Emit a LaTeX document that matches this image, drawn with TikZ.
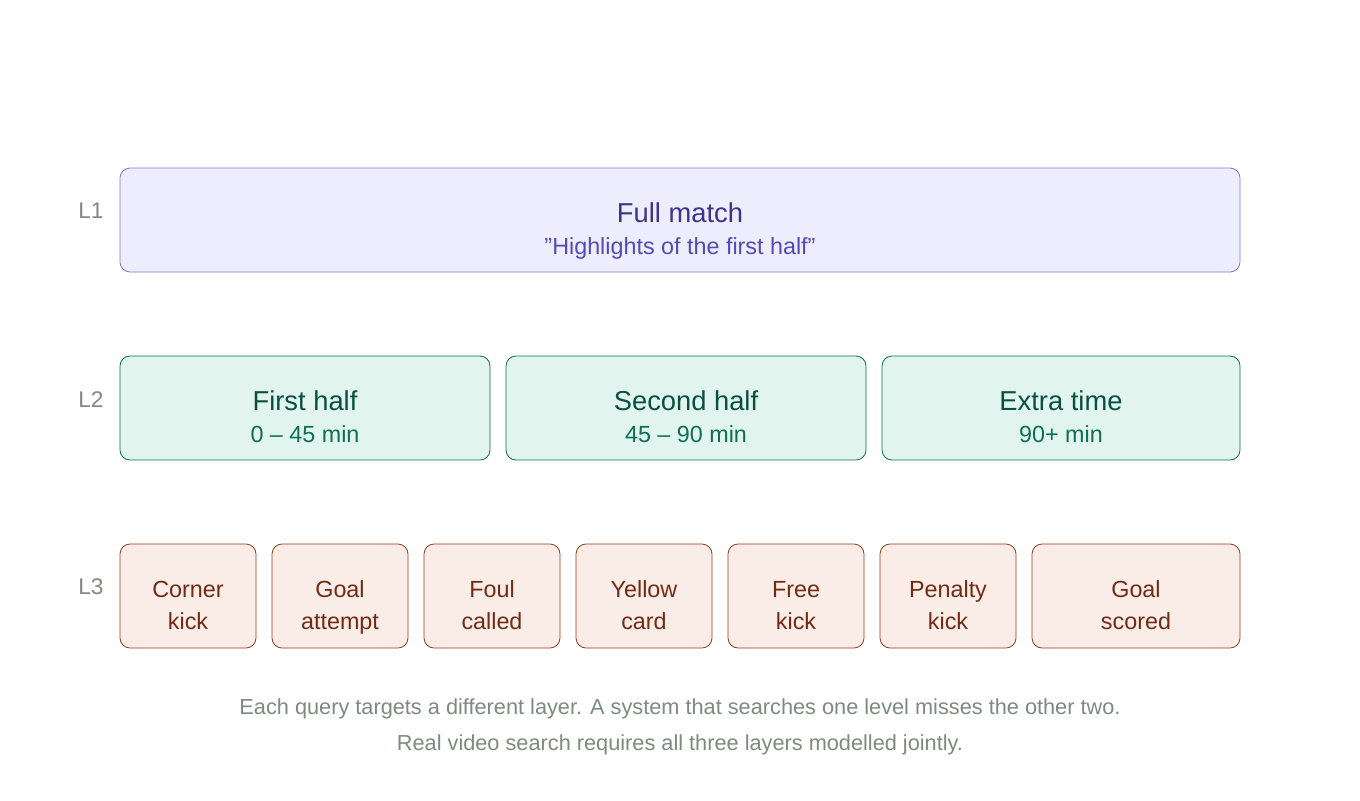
\documentclass[tikz,border=0pt]{standalone}
\usepackage{fontspec}
\setmainfont{Liberation Sans}
\usepackage{xcolor}
\definecolor{lonefill}{HTML}{EEEDFE}
\definecolor{loneline}{HTML}{7F77DD}
\definecolor{lonetext}{HTML}{3C3489}
\definecolor{lonesub}{HTML}{534AB7}
\definecolor{ltwofill}{HTML}{E1F5EE}
\definecolor{ltwoline}{HTML}{0F6E56}
\definecolor{ltwotext}{HTML}{085041}
\definecolor{lthreefill}{HTML}{FAECE7}
\definecolor{lthreeline}{HTML}{993C1D}
\definecolor{lthreetext}{HTML}{712B13}
\definecolor{graytext}{HTML}{7D8A80}
\tikzset{
  box/.style={draw, rounded corners=10*0.75pt, line width=0.6pt, inner sep=0pt, minimum height=104*0.75pt},
  lvl/.style={anchor=base, text=graytext, font=\fontsize{17}{18}\selectfont},
  title/.style={anchor=base, font=\fontsize{20.5}{24}\selectfont},
  sub/.style={anchor=base, font=\fontsize{17.5}{20}\selectfont},
  ev/.style={anchor=base, text=lthreetext, font=\fontsize{17.5}{24}\selectfont},
  caption/.style={anchor=base, text=graytext, font=\fontsize{16.3}{18}\selectfont},
}
\begin{document}
\begin{tikzpicture}[x=0.75pt,y=-0.75pt]
\useasboundingbox (0,0) rectangle (1360,800);
% level labels
\node[lvl] (lone) at (91,218) {L1};
\node[lvl] (ltwo) at (91,407) {L2};
\node[lvl] (lthree) at (91,594) {L3};
% L1
\node[box, fill=lonefill, draw=loneline, minimum width=1120*0.75pt] (full) at (680,220) {};
\node[title, text=lonetext] at (680,222) {Full match};
\node[sub, text=lonesub] at (680,254) {\symbol{34}Highlights of the first half\symbol{34}};
% L2
\foreach \a/\b/\t/\s/\n in {120/490/First half/0 -- 45 min/fh, 506/866/Second half/45 -- 90 min/sh, 882/1240/Extra time/90+ min/et}{
  \node[box, fill=ltwofill, draw=ltwoline, minimum width={(\b-\a)*0.75pt}] (\n) at ({(\a+\b)/2},408) {};
  \node[title, text=ltwotext] at ({(\a+\b)/2},410) {\t};
  \node[sub, text=ltwoline] at ({(\a+\b)/2},442) {\s};
}
% L3
\foreach \a/\b/\t/\u/\n in {120/256/Corner/kick/ck, 272/408/Goal/attempt/ga, 424/560/Foul/called/fc, 576/712/Yellow/card/yc, 728/864/Free/kick/fk, 880/1016/Penalty/kick/pk, 1032/1240/Goal/scored/gs}{
  \node[box, fill=lthreefill, draw=lthreeline, minimum width={(\b-\a)*0.75pt}] (\n) at ({(\a+\b)/2},596) {};
  \node[ev] at ({(\a+\b)/2},597) {\t};
  \node[ev] at ({(\a+\b)/2},629) {\u};
}
% caption
\node[caption] (capa) at (680,714) {Each query targets a different layer. A system that searches one level misses the other two.};
\node[caption] (capb) at (680,750) {Real video search requires all three layers modelled jointly.};
\end{tikzpicture}
\end{document}
